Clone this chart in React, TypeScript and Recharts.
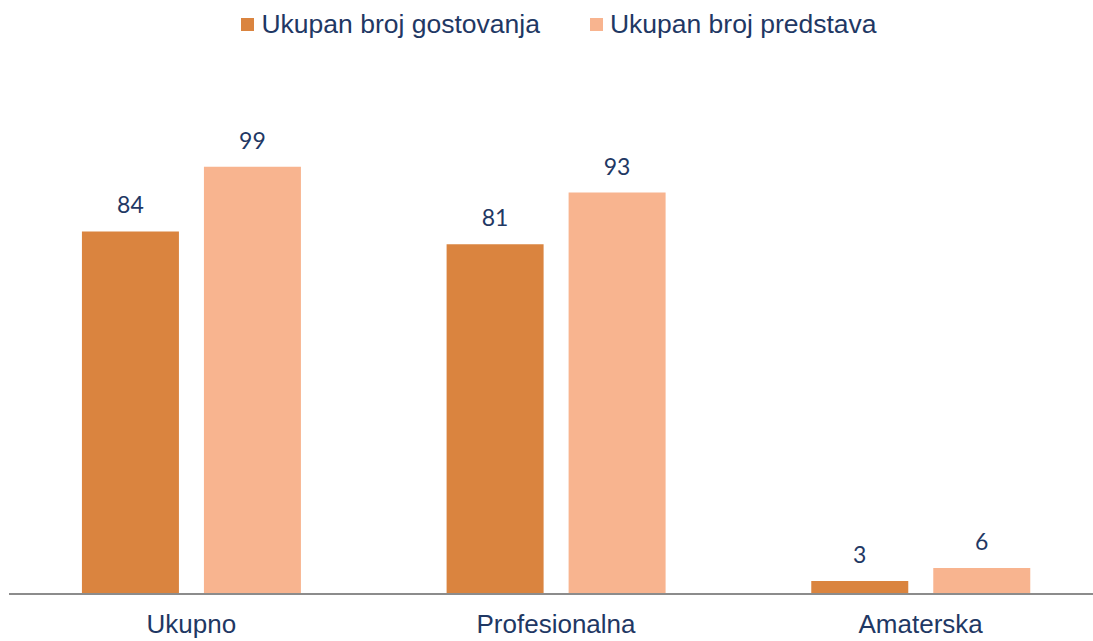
import React from "react";
import { BarChart, Bar, XAxis, YAxis, Legend, LabelList } from "recharts";

const categories = ["Ukupno", "Profesionalna", "Amaterska"];
const gostovanja = [84, 81, 3];
const predstave = [99, 93, 6];
const seriesNames = ["Ukupan broj gostovanja", "Ukupan broj predstava"];
const colors = ["#DA843F", "#F8B48F"];

const data = categories.map((c, i) => ({
  name: c,
  g: gostovanja[i],
  p: predstave[i],
}));

const textColor = "#1F3864";

const LegendContent = () => (
  <div
    style={{
      display: "flex",
      justifyContent: "center",
      alignItems: "center",
      paddingLeft: 6,
      fontFamily: "'Liberation Sans', Arial, sans-serif",
      fontSize: 26.5,
      color: textColor,
      lineHeight: "32px",
    }}
  >
    {seriesNames.map((n, i) => (
      <div key={n} style={{ display: "flex", alignItems: "center", marginRight: i === 0 ? 50 : 0 }}>
        <span style={{ width: 13, height: 13, background: colors[i], display: "inline-block", marginRight: 7 }} />
        <span>{n}</span>
      </div>
    ))}
  </div>
);

export default function App() {
  return (
    <div style={{ position: "absolute", left: 0, top: 0, width: 1093, height: 641, overflow: "hidden", background: "#fff" }}>
      <BarChart
        width={1103}
        height={641}
        data={data}
        margin={{ top: 44, right: 0, bottom: 0, left: 9 }}
        barCategoryGap="20%"
        barGap={25}
      >
        <Legend verticalAlign="top" content={<LegendContent />} wrapperStyle={{ top: 8 }} />
        <YAxis hide domain={[0, 120]} />
        <XAxis
          dataKey="name"
          height={47}
          tickLine={false}
          tickMargin={15}
          axisLine={{ stroke: "#8C8C8C", strokeWidth: 2 }}
          tick={{ fill: textColor, fontSize: 26, fontFamily: "'Liberation Sans', Arial, sans-serif" }}
        />
        <Bar dataKey="g" name={seriesNames[0]} fill={colors[0]} isAnimationActive={false}>
          <LabelList dataKey="g" position="top" offset={18} fill={textColor} fontSize={23} fontFamily="Lato, sans-serif" />
        </Bar>
        <Bar dataKey="p" name={seriesNames[1]} fill={colors[1]} isAnimationActive={false}>
          <LabelList dataKey="p" position="top" offset={18} fill={textColor} fontSize={23} fontFamily="Lato, sans-serif" />
        </Bar>
      </BarChart>
    </div>
  );
}
